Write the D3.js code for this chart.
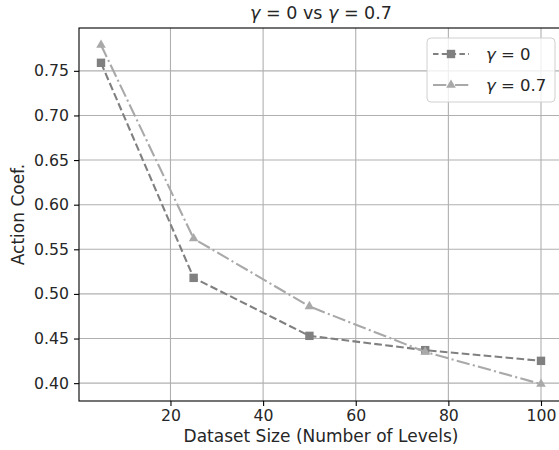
<!DOCTYPE html>
<html><head><meta charset="utf-8">
<script src="https://cdn.jsdelivr.net/npm/d3@7"></script>
<style>body{margin:0;background:#fff}svg{font-family:"DejaVu Sans",sans-serif}</style>
</head><body><svg id="c" width="559" height="450"></svg>
<script>
const sizes = [5, 25, 50, 75, 100];
const gamma0 = [0.759, 0.518, 0.453, 0.437, 0.425];
const gamma07 = [0.779, 0.562, 0.486, 0.435, 0.399];
const xTicks = [20, 40, 60, 80, 100];
const yTicks = [0.40, 0.45, 0.50, 0.55, 0.60, 0.65, 0.70, 0.75];
const seriesNames = ["0", "0.7"];

const svg = d3.select("#c");
const L = 79, R = 563, T = 28, B = 401;
const allY = gamma0.concat(gamma07);
const xmin = d3.min(sizes), xmax = d3.max(sizes);
const ymin = d3.min(allY), ymax = d3.max(allY);
const xm = (xmax - xmin) * 0.05, ym = (ymax - ymin) * 0.05;
const x = d3.scaleLinear().domain([xmin - xm, xmax + xm]).range([L, R]);
const y = d3.scaleLinear().domain([ymin - ym, ymax + ym]).range([B, T]);

// grid
const g = svg.append("g");
g.selectAll(".gx").data(xTicks).join("line")
  .attr("x1", d => x(d)).attr("x2", d => x(d)).attr("y1", T).attr("y2", B)
  .attr("stroke", "#b0b0b0").attr("stroke-width", 1.1);
g.selectAll(".gy").data(yTicks).join("line")
  .attr("x1", L).attr("x2", R).attr("y1", d => y(d)).attr("y2", d => y(d))
  .attr("stroke", "#b0b0b0").attr("stroke-width", 1.1);

// axes
const xAxis = d3.axisBottom(x).tickValues(xTicks).tickFormat(d3.format("d")).tickSize(5).tickPadding(4);
const yAxis = d3.axisLeft(y).tickValues(yTicks).tickFormat(d3.format(".2f")).tickSize(5).tickPadding(5);
const ax = svg.append("g").attr("transform", `translate(0,${B})`).call(xAxis);
const ay = svg.append("g").attr("transform", `translate(${L},0)`).call(yAxis);
[ax, ay].forEach(a => {
  a.select(".domain").remove();
  a.selectAll("line").attr("stroke", "#000").attr("stroke-width", 1.1);
  a.selectAll("text").attr("font-family", "DejaVu Sans").attr("font-size", 15.7).attr("fill", "#262626");
});
// spines
svg.append("rect").attr("x", L).attr("y", T).attr("width", R - L).attr("height", B - T)
  .attr("fill", "none").attr("stroke", "#000").attr("stroke-width", 1.1);

// lines
const series = [
  {vals: gamma0, color: "#808080", dash: "7.7,3.3", marker: "square"},
  {vals: gamma07, color: "#a9a9a9", dash: "13.3,3.3,2.1,3.3", marker: "triangle"}
];
const line = d3.line().x(d => x(d[0])).y(d => y(d[1]));
function drawMarker(sel, type, color) {
  if (type === "square") {
    sel.append("rect").attr("x", -4.2).attr("y", -4.2).attr("width", 8.4).attr("height", 8.4).attr("fill", color);
  } else {
    sel.append("path").attr("d", d3.symbol(d3.symbolTriangle, 40)()).attr("fill", color);
  }
}
series.forEach(s => {
  const pts = sizes.map((d, i) => [d, s.vals[i]]);
  svg.append("path").attr("d", line(pts)).attr("fill", "none").attr("stroke", s.color)
    .attr("stroke-width", 2.1).attr("stroke-dasharray", s.dash);
  pts.forEach(p => {
    const m = svg.append("g").attr("transform", `translate(${x(p[0])},${y(p[1])})`);
    drawMarker(m, s.marker, s.color);
  });
});

// legend
const lg = svg.append("g");
lg.append("rect").attr("x", 427).attr("y", 38).attr("width", 128).attr("height", 64).attr("rx", 4)
  .attr("fill", "#fff").attr("fill-opacity", 0.8).attr("stroke", "#d0d0d0").attr("stroke-width", 1);
series.forEach((s, i) => {
  const yy = 54 + i * 31;
  lg.append("line").attr("x1", 433).attr("x2", 469).attr("y1", yy).attr("y2", yy)
    .attr("stroke", s.color).attr("stroke-width", 2.1).attr("stroke-dasharray", i === 0 ? "5.5,3.3" : "13.3,3.3,2.1,3.3");
  drawMarker(lg.append("g").attr("transform", `translate(451,${yy})`), s.marker, s.color);
  const t = lg.append("text").attr("x", 486).attr("y", yy + 6).attr("font-size", 16.5).attr("fill", "#262626");
  t.append("tspan").attr("font-style", "italic").text("γ");
  t.append("tspan").text(" = " + seriesNames[i]);
});

// title
const tt = svg.append("text").attr("x", (L + R) / 2).attr("y", 19).attr("text-anchor", "middle")
  .attr("font-size", 17.5).attr("fill", "#262626");
tt.append("tspan").attr("font-style", "italic").text("γ");
tt.append("tspan").text(" = 0 vs ");
tt.append("tspan").attr("font-style", "italic").text("γ");
tt.append("tspan").text(" = 0.7");

// axis labels
svg.append("text").attr("x", (L + R) / 2).attr("y", 442).attr("text-anchor", "middle")
  .attr("font-size", 17).attr("fill", "#262626").text("Dataset Size (Number of Levels)");
svg.append("text").attr("transform", `translate(24,${(T + B) / 2}) rotate(-90)`).attr("text-anchor", "middle")
  .attr("font-size", 17).attr("fill", "#262626").text("Action Coef.");
</script></body></html>
